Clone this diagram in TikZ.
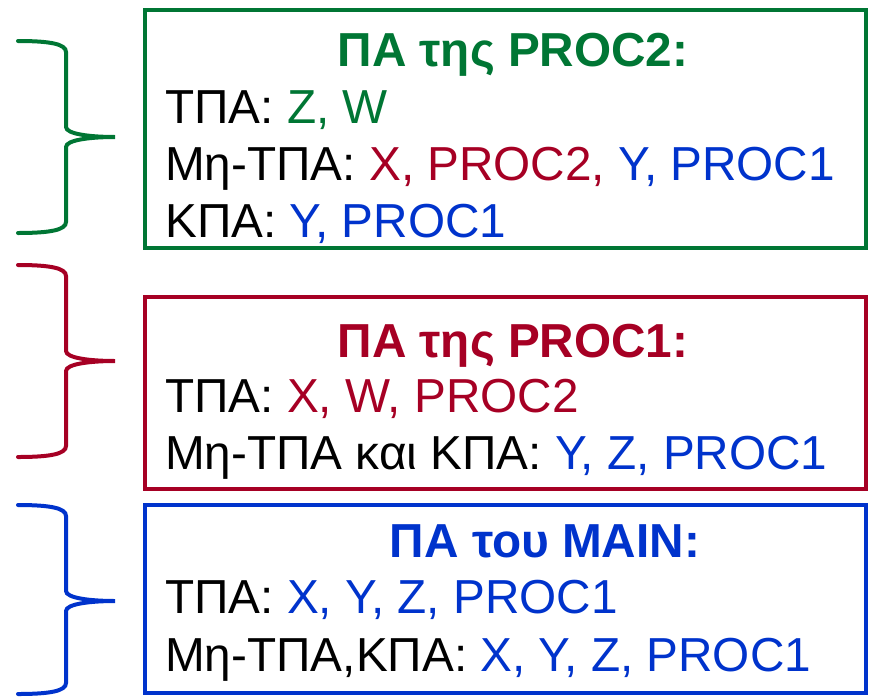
\documentclass[tikz,border=0pt]{standalone}
\usepackage{fontspec}
\setmainfont{Liberation Sans}
\usepackage{xcolor}
\definecolor{pgreen}{RGB}{0,118,52}
\definecolor{pred}{RGB}{166,0,36}
\definecolor{pblue}{RGB}{0,51,204}
\tikzset{
  arbox/.style={draw=#1, line width=4pt, rectangle, inner sep=0pt},
  artitle/.style={text=#1, inner sep=0pt, anchor=base, font=\fontsize{47.7}{57}\selectfont\bfseries},
  arline/.style={inner sep=0pt, anchor=base west, font=\fontsize{47.7}{57}\selectfont},
  arbrace/.style={draw=#1, line width=4pt, line cap=round}
}

\begin{document}
\begin{tikzpicture}[x=1pt,y=-1pt]
  \useasboundingbox (0,0) rectangle (869,696);

  % the three boxes
  \node[arbox=pgreen, minimum width=721pt, minimum height=238pt] (proc2) at (505.5,129) {};
  \node[arbox=pred, minimum width=721pt, minimum height=192pt] (proc1) at (505.5,393) {};
  \node[arbox=pblue, minimum width=721pt, minimum height=188pt] (main) at (505.5,599) {};

  % PROC2
  \node[artitle=pgreen] (t2) at (513,66) {ΠΑ της PROC2:};
  \node[arline] (a2) at (165,123) {ΤΠΑ: \textcolor{pgreen}{Z, W}};
  \node[arline] (b2) at (165,180) {Μη-ΤΠΑ: \textcolor{pred}{X, PROC2,} \textcolor{pblue}{Y, PROC1}};
  \node[arline] (c2) at (165,237) {ΚΠΑ: \textcolor{pblue}{Y, PROC1}};

  % PROC1
  \node[artitle=pred] (t1) at (513,357) {ΠΑ της PROC1:};
  \node[arline] (a1) at (165,412) {ΤΠΑ: \textcolor{pred}{X, W, PROC2}};
  \node[arline] (b1) at (165,469) {Μη-ΤΠΑ και ΚΠΑ: \textcolor{pblue}{Y, Z, PROC1}};

  % MAIN
  \node[artitle=pblue] (t0) at (545,557) {ΠΑ του MAIN:};
  \node[arline] (a0) at (165,613) {ΤΠΑ: \textcolor{pblue}{X, Y, Z, PROC1}};
  \node[arline] (b0) at (165,671) {Μη-ΤΠΑ,ΚΠΑ: \textcolor{pblue}{X, Y, Z, PROC1}};

  % braces on the left
  \foreach \c/\t/\m/\b in {pgreen/41/137/233, pred/265/361/457, pblue/505/601/694}{
    \draw[arbrace=\c] (18,\t) .. controls (50,\t) and (66,\t+3) .. (66,\t+11)
      -- (66,\m-10) .. controls (66,\m-3) and (90,\m) .. (115,\m)
      .. controls (90,\m) and (66,\m+3) .. (66,\m+10)
      -- (66,\b-11) .. controls (66,\b-3) and (50,\b) .. (18,\b);
  }
\end{tikzpicture}
\end{document}
